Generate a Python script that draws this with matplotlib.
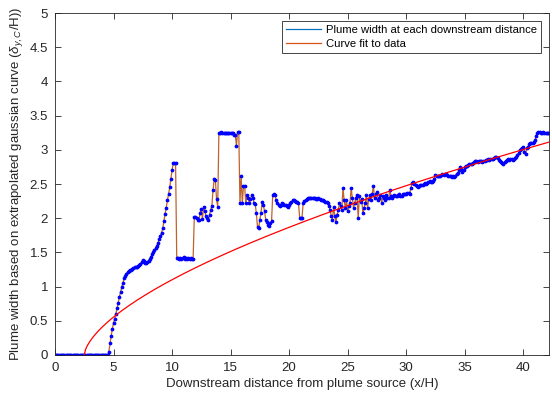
import matplotlib
matplotlib.use('Agg')
import matplotlib.pyplot as plt
from matplotlib.lines import Line2D
import numpy as np

plt.rcParams.update({
    'font.family': ['Liberation Sans', 'DejaVu Sans'],
    'font.size': 9,
    'mathtext.fontset': 'custom',
    'mathtext.rm': 'Liberation Sans',
    'mathtext.it': 'Liberation Sans:italic',
    'xtick.direction': 'in',
    'ytick.direction': 'in',
    'xtick.top': True,
    'ytick.right': True,
})

# plume width samples, one every 0.1 x/H starting at 0
x_start = 0.0
x_step = 0.1
width = (
    [0.0] * 46 +
    [0.05, 0.17, 0.28, 0.38] +
    [0.47, 0.53, 0.60, 0.68, 0.76, 0.85, 0.92, 0.99, 1.05, 1.12] +
    [1.16, 1.19, 1.21, 1.23, 1.24, 1.25, 1.26, 1.27, 1.28, 1.29] +
    [1.29, 1.30, 1.31, 1.33, 1.36, 1.39, 1.37, 1.35, 1.34, 1.36] +
    [1.38, 1.41, 1.44, 1.47, 1.50, 1.53, 1.57, 1.60, 1.64, 1.69] +
    [1.74, 1.79, 1.85, 1.96, 2.06, 2.15, 2.26, 2.35, 2.45, 2.58] +
    [2.70, 2.81, 2.81, 2.81, 1.42, 1.42, 1.41, 1.42, 1.41, 1.42] +
    [1.43, 1.41, 1.42, 1.40, 1.42, 1.41, 1.42, 1.41, 1.41, 2.02] +
    [2.02, 2.00, 1.98, 1.97, 2.08, 2.13, 1.99, 2.17, 2.10, 2.03] +
    [2.00, 1.98, 2.05, 2.12, 2.18, 2.41, 2.58, 2.56, 2.28, 2.17] +
    [3.25, 3.25, 3.26, 3.25, 3.24, 3.24, 3.25, 3.24, 3.24, 3.25] +
    [3.25, 3.24, 3.24, 3.22, 3.22, 3.06, 3.26, 3.26, 2.22, 2.62] +
    [2.22, 2.47, 2.47, 2.22, 2.34, 2.30, 2.22, 2.28, 2.34, 2.30] +
    [2.22, 2.21, 2.07, 1.87, 1.86, 1.98, 2.08, 2.24, 2.20, 2.10] +
    [1.98, 1.95, 1.90, 1.89, 1.93, 1.96, 2.34, 2.35, 2.34, 2.26] +
    [2.22, 2.19, 2.18, 2.20, 2.22, 2.21, 2.20, 2.19, 2.18, 2.17] +
    [2.20, 2.22, 2.24, 2.26, 2.27, 2.25, 2.24, 2.23, 2.22, 2.01] +
    [2.00, 2.01, 2.22, 2.25, 2.27, 2.28, 2.29, 2.29, 2.30, 2.29] +
    [2.29, 2.29, 2.29, 2.28, 2.28, 2.29, 2.28, 2.27, 2.26, 2.27] +
    [2.25, 2.24, 2.23, 2.22, 2.18, 2.12, 2.03, 1.98, 2.17, 2.03] +
    [1.94, 2.05, 2.12, 2.22, 2.18, 2.12, 2.44, 2.26, 2.15, 2.27] +
    [2.10, 2.18, 2.22, 2.44, 2.30, 2.15, 2.22, 2.30, 2.34, 2.00] +
    [2.32, 2.24, 2.28, 2.07, 2.15, 2.22, 2.34, 2.15, 2.28, 2.34] +
    [2.27, 2.36, 2.47, 2.29, 2.35, 2.39, 2.27, 2.30, 2.34, 2.22] +
    [2.32, 2.30, 2.27, 2.34, 2.30, 2.29, 2.41, 2.33, 2.29, 2.32] +
    [2.34, 2.33, 2.32, 2.34, 2.36, 2.32, 2.33, 2.35, 2.36, 2.35] +
    [2.36, 2.37, 2.37, 2.36, 2.44, 2.52, 2.53, 2.50, 2.49, 2.47] +
    [2.46, 2.47, 2.48, 2.49, 2.48, 2.50, 2.51, 2.50, 2.52, 2.53] +
    [2.54, 2.53, 2.53, 2.55, 2.58, 2.63, 2.62, 2.61, 2.61, 2.62] +
    [2.63, 2.64, 2.63, 2.65, 2.64, 2.63, 2.61, 2.62, 2.61, 2.60] +
    [2.61, 2.60, 2.62, 2.65, 2.66, 2.70, 2.75, 2.72, 2.68, 2.70] +
    [2.75, 2.76, 2.77, 2.78, 2.80, 2.80, 2.79, 2.81, 2.82, 2.83] +
    [2.83, 2.82, 2.83, 2.84, 2.83, 2.82, 2.83, 2.84, 2.85, 2.85] +
    [2.86, 2.85, 2.86, 2.86, 2.87, 2.88, 2.89, 2.90, 2.88, 2.85] +
    [2.84, 2.82, 2.81, 2.80, 2.82, 2.84, 2.85, 2.86, 2.85, 2.86] +
    [2.86, 2.85, 2.86, 2.88, 2.90, 2.92, 2.95, 3.00, 3.01, 3.03] +
    [3.04, 2.97, 2.94, 3.02, 3.04, 3.08, 3.10, 3.10, 3.10, 3.12] +
    [3.14, 3.20, 3.25, 3.26, 3.26, 3.25, 3.25, 3.26, 3.25, 3.25] +
    [3.25, 3.25, 3.25]
)
width = np.array(width)
dist = x_start + x_step * np.arange(len(width))

# curve fit: a*(x - x0)^b
fit_a = 0.313
fit_x0 = 2.5
fit_b = 0.624
xfit = np.linspace(fit_x0, dist[-1], 400)
yfit = fit_a * (xfit - fit_x0) ** fit_b

fig = plt.figure(figsize=(5.52, 3.99), dpi=100)
ax = fig.add_axes([0.0996, 0.1103, 0.895, 0.857])

ax.plot(dist, width, '-', color='#c0622e', linewidth=0.9)
ax.plot(dist, width, '.', color='#0000ff', markersize=3.4)
ax.plot(xfit, yfit, 'r-', linewidth=0.9)

ax.set_xlim(0, dist[-1])
ax.set_ylim(0, 5)
ax.set_xticks(np.arange(0, 41, 5))
ax.set_yticks(np.arange(0, 5.01, 0.5))
ax.set_yticklabels(['0', '0.5', '1', '1.5', '2', '2.5', '3', '3.5', '4', '4.5', '5'])
ax.tick_params(length=4, width=0.6, colors='#262626', labelsize=9.5)
ax.tick_params(axis='x', pad=5)
ax.tick_params(axis='y', pad=5)
for s in ax.spines.values():
    s.set_color('#262626')
    s.set_linewidth(0.6)

ax.set_xlabel('Downstream distance from plume source (x/H)', fontsize=9.5, color='#262626', labelpad=3)
ax.set_ylabel(r'Plume width based on extrapolated gaussian curve ($\delta_{y,C}$/H))',
              fontsize=9.5, color='#262626', labelpad=3)

handles = [Line2D([], [], color='#0072BD', linewidth=0.9),
           Line2D([], [], color='#D95319', linewidth=0.9)]
leg = ax.legend(handles, ['Plume width at each downstream distance', 'Curve fit to data'],
                loc='upper right', fontsize=8.1, fancybox=False, framealpha=1,
                edgecolor='#262626', handlelength=3.1, borderpad=0.4,
                labelspacing=0.3, borderaxespad=0.7, handletextpad=0.4)
leg.get_frame().set_linewidth(0.6)

fig.savefig('out.png', dpi=100)
